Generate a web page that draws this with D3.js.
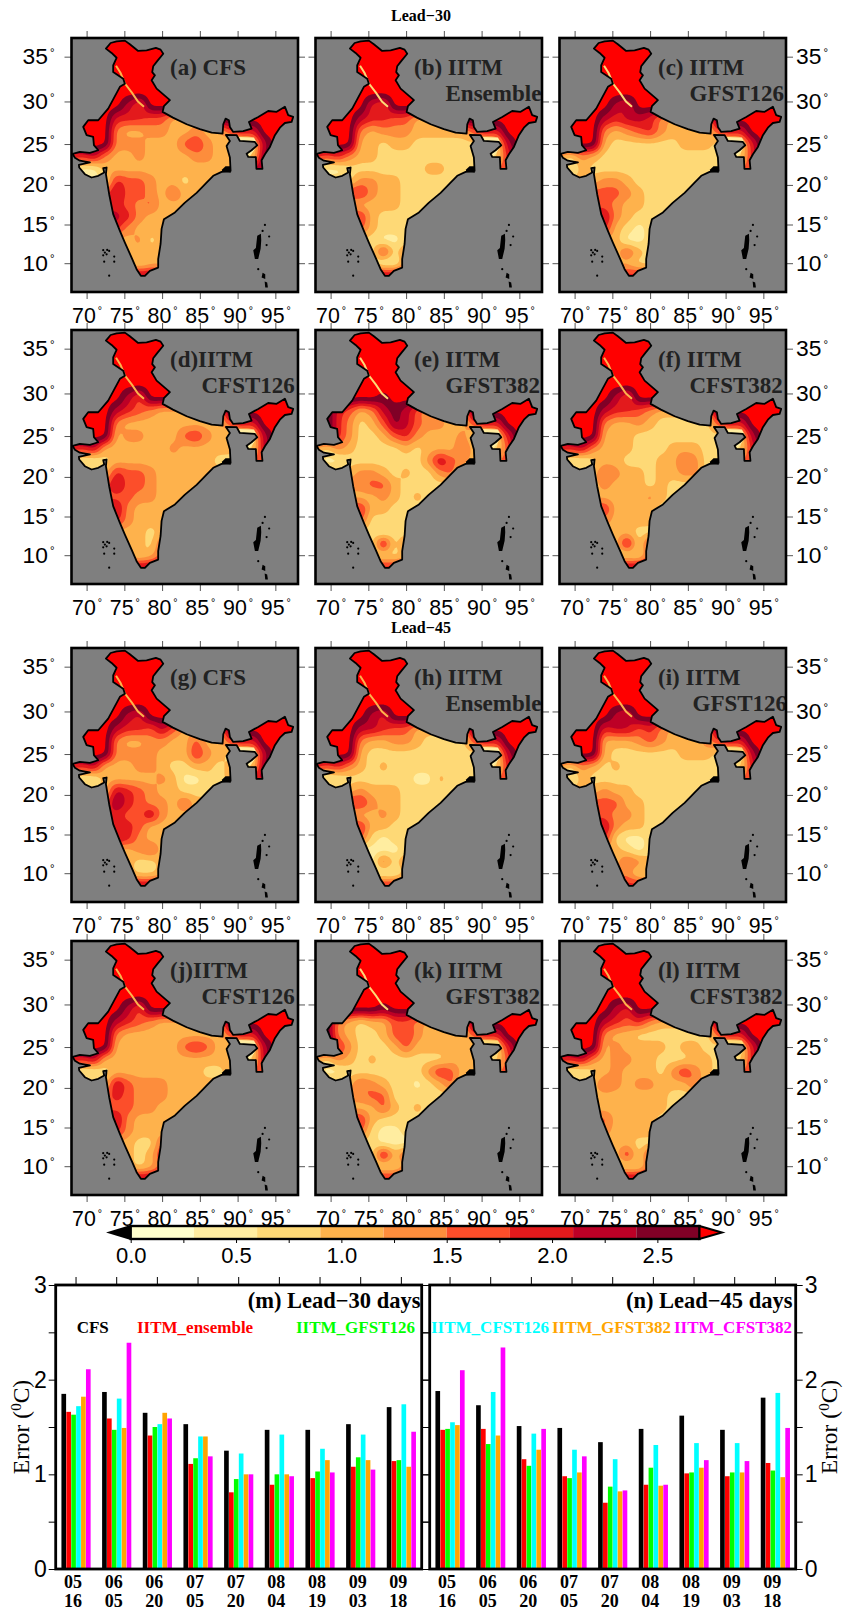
<!DOCTYPE html>
<html>
<head>
<meta charset="utf-8">
<script src="https://cdn.jsdelivr.net/npm/d3@7"></script>
<style>
  body { margin: 0; background: #fff; }
  text { font-family: "Liberation Sans", sans-serif; }
  .serif { font-family: "Liberation Serif", serif; font-weight: bold; }
</style>
</head>
<body>
<svg id="chart" width="843" height="1621"></svg>
<script>
// ---- bar chart values, degC, one row per date, columns in seriesNames order
var dateTop = ["05", "06", "06", "07", "07", "08", "08", "09", "09"];
var dateBottom = ["16", "05", "20", "05", "20", "04", "19", "03", "18"];
var seriesNames = ["CFS", "IITM_ensemble", "IITM_GFST126", "IITM_CFST126", "IITM_GFST382", "IITM_CFST382"];
var seriesColors = ["#000000", "#ff0000", "#00ff00", "#00ffff", "#ffa500", "#ff00ff"];
var lead30Errors = [
  [1.85, 1.66, 1.63, 1.72, 1.82, 2.11],
  [1.87, 1.59, 1.47, 1.80, 1.49, 2.39],
  [1.65, 1.41, 1.50, 1.53, 1.65, 1.59],
  [1.53, 1.11, 1.17, 1.40, 1.40, 1.19],
  [1.25, 0.81, 0.95, 1.22, 1.00, 1.00],
  [1.47, 0.89, 1.00, 1.42, 1.00, 0.98],
  [1.47, 0.96, 1.03, 1.27, 1.15, 1.02],
  [1.53, 1.08, 1.18, 1.42, 1.15, 1.05],
  [1.71, 1.14, 1.15, 1.74, 1.08, 1.45]
];
var lead45Errors = [
  [1.88, 1.47, 1.48, 1.55, 1.52, 2.10],
  [1.73, 1.48, 1.32, 1.87, 1.41, 2.34],
  [1.51, 1.16, 1.09, 1.43, 1.26, 1.48],
  [1.49, 0.98, 0.96, 1.26, 1.02, 1.19],
  [1.34, 0.70, 0.87, 1.16, 0.82, 0.83],
  [1.48, 0.89, 1.07, 1.31, 0.88, 0.89],
  [1.62, 1.01, 1.02, 1.33, 1.07, 1.15],
  [1.47, 0.98, 1.02, 1.33, 1.02, 1.14],
  [1.81, 1.12, 1.04, 1.86, 0.97, 1.49]
];

// ---- colour bar
var levelColors = ["#ffffcc", "#ffeda0", "#fed976", "#feb24c", "#fd8d3c", "#fc4e2a", "#e31a1c", "#bd0026", "#800026"];
var overColor = "#ff0000";
var levelBreaks = [0, 0.3, 0.6, 0.9, 1.2, 1.5, 1.8, 2.1, 2.4, 2.7];

// ---- map geography, lon/lat
var lonTicks = [70, 75, 80, 85, 90, 95];
var latTicks = [35, 30, 25, 20, 15, 10];
var indiaOutline = [
  [72.56,35.87],[73.18,36.47],[73.97,36.65],[75.07,36.72],[75.73,36.34],[76.83,35.62],[77.95,35.69],[79.18,35.95],
  [79.8,35.76],[80.15,35.32],[79.35,34.52],[78.82,33.95],[78.69,33.31],[79.05,32.95],[78.61,32.4],[79.27,31.46],
  [80.81,30.33],[81.03,30.15],[80.24,29.45],[80.07,28.8],[81.43,28.13],[83.25,27.35],[85.0,26.77],[86.56,26.36],
  [88.01,26.25],[88.1,27.35],[88.41,28.01],[88.85,27.82],[88.98,27.03],[89.42,26.45],[90.74,26.53],[91.85,26.84],
  [91.5,27.62],[92.73,28.21],[94.05,28.9],[95.17,28.8],[96.26,29.4],[96.7,28.42],[97.36,28.21],[97.15,27.62],
  [96.26,27.5],[95.6,26.95],[94.94,26.06],[94.28,24.65],[93.62,23.77],[93.18,23.04],[93.29,21.99],[92.49,21.99],
  [92.42,23.43],[91.4,23.44],[91.19,23.84],[91.85,24.25],[92.6,24.85],[92.29,25.25],[90.3,25.37],[89.87,26.06],
  [88.45,26.09],[88.98,25.37],[88.54,24.77],[88.98,23.36],[89.07,21.74],[87.88,21.62],[86.77,21.13],[85.89,20.29],
  [84.57,19.01],[83.02,17.78],[81.7,16.54],[80.24,15.68],[79.93,14.44],[79.8,12.5],[79.48,10.52],[79.48,9.43],
  [78.38,9.0],[77.72,8.35],[77.19,8.35],[76.62,9.22],[75.96,10.73],[75.07,12.67],[74.41,14.18],[73.52,16.32],
  [72.99,18.84],[72.56,21.33],[72.65,22.15],[72.2,22.07],[72.33,21.53],[71.54,21.13],[70.66,20.92],[69.77,21.33],
  [69.02,22.15],[68.98,22.48],[70.44,22.79],[69.11,22.98],[68.45,23.35],[68.15,23.8],[69.11,24.05],[70.44,23.93],
  [71.54,24.25],[70.97,24.86],[70.87,25.86],[70.0,26.06],[69.55,27.04],[70.21,27.82],[71.54,27.82],[72.86,29.17],
  [74.41,31.66],[75.07,32.02],[74.85,32.58],[73.52,33.31],[73.52,34.05],[73.97,34.88],[73.31,35.4]
];
var sundarbans = [[87.95,21.9],[88.4,22.3],[89.05,22.3],[89.1,21.5],[87.9,21.6]];
var andaman = [[93.09,13.83],[93.13,12.97],[93.05,11.89],[92.73,10.55],[92.29,10.55],[92.07,11.7],[92.42,11.96],[92.6,13.55]];
var carNicobar = [[93.31,8.75],[93.66,8.54],[93.66,7.92],[93.18,8.12]];
var greatNicobar = [[93.58,7.6],[93.92,7.47],[94.01,6.8],[93.66,6.8]];
var islandDots = [
  [72.2,11.7],[72.73,11.73],[72.99,11.6],[72.42,11.38],[72.2,11.03],[72.65,11.16],[72.33,10.2],[73.66,10.86],[73.66,10.2],[72.99,8.37],
  [93.62,14.95],[93.31,14.18],[94.18,13.46],[93.84,12.36],[92.73,9.22]
];
// thin band along the Himalayan foothills
var foothillStrip = [[73.9,34.0],[74.5,33.2],[75.1,32.0],[76.0,31.0],[76.8,30.0],[77.6,29.4]];
var stripLevels = [3, 2, 2, 3, 2, 3, 3, 3, 3, 3, 2, 3];
// pale Assam valley and the hook below it, narrower than the field grid can show
var assamValley = [[90.2,25.6],[92.0,25.55],[92.3,25.0],[91.9,24.3],[91.4,23.7]];
var valleyLevels = [1, 1, 1, 1, 1, 1, 1, 1, 2, 1, 2, 2];

// ---- error fields: rows lat 29.5 to 7 by 1.5, columns lon 68 to 98 by 1.5
// digit = colour band of levelBreaks, 9 = above the scale
var fieldA = ["999997599999999999999","999966655333399999999","999943344334335769999","999944433356432027999","667433433334433228999","211333333333333378888","111265543323333333333","555575543533333333333","666665453333333333333","777776433333333333333","666664333333333333333","333333423333333333333","333333333333333333333","333333233333333333333","777777777777777777777","777777777777777777777"];
var fieldB = ["999996599999999999999","999976655333399999999","999943444333335769999","999933233222222027999","656433222222222226999","111222222233222255555","222244332222222222222","666664332222222222222","333333332222222222222","666663222222222222222","555553222222222222222","222222112222222222222","222222624444444444444","222222114444444444444","777777777777777777777","777777777777777777777"];
var fieldC = ["999997699999999999999","999976776433339999999","999943456433335769999","999932222223332026999","324322222222222226999","213222222222222255555","333344322222222222222","555555432222222222222","555554332222222222222","777774322222222222222","666663212222222222222","333333112222222222222","333333532222222222222","333333322222222222222","666666666666666666666","666666666666666666666"];
var fieldD = ["999997599999999999999","999976543333339999999","999943333333335769999","999934433356432027999","667333333433333227999","211233333333322255555","333365543333333333333","555575543333333333333","555555443333333333333","777774333333333333333","666664333333333333333","333333323333333333333","333333325555555555555","333333235555555555555","777777777777777777777","777777777777777777777"];
var fieldE = ["999999899999999999999","996534787533339999999","996423587544335769999","996422356433342026999","324322223233353225999","211222222247543255555","333344323224522222222","444445532222222222222","333333432322222222222","666663322222222222222","555552222222222222222","222222122222222222222","222222724444444444444","222222223333333333333","666666666666666666666","666666666666666666666"];
var fieldF = ["999997599999999999999","999976654333339999999","999943343222225769999","999933322222222027999","667433322233322226999","211233222335422255555","333354332334422222222","333343332322222222222","333333334322222222222","666663333222222222222","444443333222222222222","333333322222222222222","333333726666666666666","222222225555555555555","777777777777777777777","777777777777777777777"];
var fieldG = ["999997699999999999999","999976657533339999999","999943344335335769999","999944443336432027999","667333443223323228999","211333334311223377777","333376543322222222222","555586544353333333333","666665574333333333333","666666533333333333333","777776433333333333333","333333453333333333333","333333223333333333333","333333223333333333333","777777777777777777777","777777777777777777777"];
var fieldH = ["999997699999999999999","999977655333339999999","999943344322225769999","999932222222222027999","656432322222222226999","111222222113222255555","333343332222222222222","666664332222222222222","333333432222222222222","666663322222222222222","555552122222222222222","111111112222222222222","111111524444444444444","111111113333333333333","666666666666666666666","666666666666666666666"];
var fieldI = ["999997699999999999999","999967756433339999999","999933345433345769999","999932222223332027999","324323222222222226999","213222222222222255555","333343322222222222222","555555332222222222222","555554432222222222222","777774332222222222222","666662112222222222222","333333212222222222222","333333543333333333333","444444422222222222222","666666666666666666666","666666666666666666666"];
var fieldJ = ["999997599999999999999","999976543333339999999","999943333333335769999","999933333356532027999","667333333333333227999","211233333333223255555","333375444333333333333","555565444333333333333","555555443333333333333","777774333333333333333","666664333333333333333","333333225555555555555","333333236666666666666","333333235555555555555","777777777777777777777","777777777777777777777"];
var fieldK = ["999999899999999999999","994323355433339999999","994322356433335769999","996422235333332026999","324323222222333225999","211222222246533255555","333354322123522222222","444445522222222222222","333333532322222222222","666663222222222222222","555552112222222222222","222222111222222222222","222222735555555555555","222222224444444444444","666666666666666666666","666666666666666666666"];
var fieldL = ["999997699999999999999","999976564333339999999","999943322222225769999","999934333323322026999","667434433222332226999","211234333246432255555","333354344333522222222","333333333322222222222","333333333322222222222","555553333222222222222","444443333222222222222","333333322222222222222","333333626666666666666","222222225555555555555","777777777777777777777","777777777777777777777"];
var panelFields = [fieldA, fieldB, fieldC, fieldD, fieldE, fieldF, fieldG, fieldH, fieldI, fieldJ, fieldK, fieldL];
var northRow = "999999999999999999999"; // lat 37 to 31 is above the scale everywhere

var panelLine1 = ["(a) CFS", "(b) IITM", "(c) IITM", "(d)IITM", "(e) IITM", "(f) IITM", "(g) CFS", "(h) IITM", "(i) IITM", "(j)IITM", "(k) IITM", "(l) IITM"];
var panelLine2 = ["", "Ensemble", "GFST126", "CFST126", "GFST382", "CFST382", "", "Ensemble", "GFST126", "CFST126", "GFST382", "CFST382"];

// ---- layout
var colLeft = [71.5, 315.5, 559.5];
var rowTop = [38, 330, 648, 941];
var mapW = 226.5, mapH = 254;
var svg = d3.select("#chart");

var proj = d3.geoMercator().scale(432.6).center([68, 37]).translate([0, 0]);
var xLon = d3.scaleLinear().domain([68, 98]).range([0, mapW]);
var yLat = d3.scaleLinear()
  .domain(latTicks)
  .range(latTicks.map(function (d) { return proj([68, d])[1]; }));

// planar path, so ring direction of contours and outlines does not matter
var geoPath = d3.geoPath(d3.geoTransform({
  point: function (lon, lat) {
    var p = proj([lon, lat]);
    this.stream.point(p[0], p[1]);
  }
}));
function ring(pts) {
  return { type: "Polygon", coordinates: [pts.concat([pts[0]])] };
}

// refine the typed grid so the contour bands come out smooth; the ease keeps
// edges between cells steep, the bands in the reference are narrow next to red
var up = 6;
function ease(t) { return t * t * t * (t * (t * 6 - 15) + 10); }
function contourBands(rows) {
  var all = [northRow, northRow, northRow, northRow, northRow].concat(rows);
  var nr = all.length, nc = all[0].length;
  var w = (nc - 1) * up + 1, h = (nr - 1) * up + 1;
  var data = new Float64Array(w * h);
  function at(r, c) { return +all[Math.min(r, nr - 1)][Math.min(c, nc - 1)] + 0.5; }
  for (var j = 0; j < h; j++) {
    for (var i = 0; i < w; i++) {
      var r = Math.floor(j / up), c = Math.floor(i / up);
      var fy = ease(j / up - r), fx = ease(i / up - c);
      data[j * w + i] = at(r, c) * (1 - fx) * (1 - fy) + at(r, c + 1) * fx * (1 - fy) +
        at(r + 1, c) * (1 - fx) * fy + at(r + 1, c + 1) * fx * fy;
    }
  }
  d3.blur2({ data: data, width: w, height: h }, 1.5);
  var bands = d3.contours().size([w, h]).thresholds(d3.range(0, 10))(Array.from(data));
  bands.forEach(function (b) {
    b.coordinates = b.coordinates.map(function (poly) {
      return poly.map(function (rg) {
        return rg.map(function (pt) {
          return [68 + (pt[0] - 0.5) / up * 1.5, 37 - (pt[1] - 0.5) / up * 1.5];
        });
      });
    });
  });
  return bands;
}

svg.append("defs").append("clipPath").attr("id", "indiaClip")
  .append("path").attr("d", geoPath(ring(indiaOutline)));

function degLabel(len) {
  return function (g) {
    g.selectAll("text")
      .attr("font-size", 22)
      .attr("fill", "#000")
      .attr("textLength", len)
      .attr("lengthAdjust", "spacingAndGlyphs")
      .append("tspan")
      .attr("font-size", 11)
      .attr("dy", "-0.75em")
      .attr("dx", "2")
      .text("°");
  };
}

function drawMap(idx) {
  var col = idx % 3, row = Math.floor(idx / 3);
  var g = svg.append("g").attr("transform", "translate(" + colLeft[col] + "," + rowTop[row] + ")");

  g.append("rect").attr("width", mapW).attr("height", mapH).attr("fill", "#7f7f7f");

  var clip = g.append("g").attr("clip-path", "url(#indiaClip)");
  clip.selectAll("path.band")
    .data(contourBands(panelFields[idx]))
    .join("path")
    .attr("class", "band")
    .attr("d", geoPath)
    .attr("fill", function (d, i) { return i < levelColors.length ? levelColors[i] : overColor; });
  clip.append("path")
    .datum({ type: "LineString", coordinates: foothillStrip })
    .attr("d", geoPath)
    .attr("fill", "none")
    .attr("stroke", levelColors[stripLevels[idx]])
    .attr("stroke-width", 2);
  clip.append("path")
    .datum({ type: "LineString", coordinates: assamValley })
    .attr("d", geoPath)
    .attr("fill", "none")
    .attr("stroke", levelColors[valleyLevels[idx]])
    .attr("stroke-width", 4);

  g.append("path").attr("d", geoPath(ring(indiaOutline)))
    .attr("fill", "none").attr("stroke", "#000").attr("stroke-width", 1.8).attr("stroke-linejoin", "round");
  [sundarbans, andaman, carNicobar, greatNicobar].forEach(function (pts) {
    g.append("path").attr("d", geoPath(ring(pts))).attr("fill", "#000");
  });
  g.selectAll("circle.island")
    .data(islandDots)
    .join("circle")
    .attr("class", "island")
    .attr("cx", function (d) { return proj(d)[0]; })
    .attr("cy", function (d) { return proj(d)[1]; })
    .attr("r", 1.1)
    .attr("fill", "#000");

  // panel captions
  g.append("text").attr("class", "serif").attr("x", 98.5).attr("y", 37)
    .attr("font-size", 23).attr("fill", "#222").text(panelLine1[idx]);
  g.append("text").attr("class", "serif").attr("x", idx == 8 ? 133 : 130).attr("y", 63)
    .attr("font-size", 23).attr("fill", "#222").text(panelLine2[idx]);

  // ticks on all sides, labels only on the outer columns and below every map
  function noDomain(s) { s.select(".domain").remove(); s.selectAll("line").attr("stroke", "#555"); }
  g.append("g").call(d3.axisTop(xLon).tickValues(lonTicks).tickSize(7).tickFormat("")).call(noDomain);
  g.append("g").attr("transform", "translate(0," + mapH + ")")
    .call(d3.axisBottom(xLon).tickValues(lonTicks).tickSize(7).tickPadding(8).tickFormat(String))
    .call(noDomain).call(degLabel(30));
  var left = g.append("g").call(d3.axisLeft(yLat).tickValues(latTicks).tickSize(7).tickPadding(col == 0 ? 10 : 0)
    .tickFormat(col == 0 ? String : "")).call(noDomain);
  var right = g.append("g").attr("transform", "translate(" + mapW + ",0)")
    .call(d3.axisRight(yLat).tickValues(latTicks).tickSize(7).tickPadding(col == 2 ? 3 : 0)
    .tickFormat(col == 2 ? String : "")).call(noDomain);
  if (col == 0) left.call(degLabel(32));
  if (col == 2) right.call(degLabel(32));

  g.append("rect").attr("width", mapW).attr("height", mapH)
    .attr("fill", "none").attr("stroke", "#000").attr("stroke-width", 2.6);
}
d3.range(12).forEach(drawMap);

svg.append("text").attr("class", "serif").attr("x", 421).attr("y", 21)
  .attr("text-anchor", "middle").attr("font-size", 16).text("Lead\u221230");
svg.append("text").attr("class", "serif").attr("x", 421).attr("y", 633)
  .attr("text-anchor", "middle").attr("font-size", 16).text("Lead\u221245");

// ---- colour bar
var cbar = d3.scaleLinear().domain([0, 2.7]).range([130.7, 699.5]);
var cbTop = 1226, cbBottom = 1239, cbMid = (cbTop + cbBottom) / 2;
svg.append("g").selectAll("rect")
  .data(levelColors)
  .join("rect")
  .attr("x", function (d, i) { return cbar(levelBreaks[i]); })
  .attr("y", cbTop)
  .attr("width", function (d, i) { return cbar(levelBreaks[i + 1]) - cbar(levelBreaks[i]); })
  .attr("height", cbBottom - cbTop)
  .attr("fill", function (d) { return d; });
svg.append("rect").attr("x", cbar(0)).attr("y", cbTop)
  .attr("width", cbar(2.7) - cbar(0)).attr("height", cbBottom - cbTop)
  .attr("fill", "none").attr("stroke", "#000").attr("stroke-width", 2.4);
svg.append("path")
  .attr("d", d3.line()([[cbar(0), cbTop - 1], [106, cbMid], [cbar(0), cbBottom + 1]]) + "Z")
  .attr("fill", "#000");
svg.append("path")
  .attr("d", d3.line()([[cbar(2.7), cbTop], [722, cbMid], [cbar(2.7), cbBottom]]) + "Z")
  .attr("fill", overColor).attr("stroke", "#000").attr("stroke-width", 2);
svg.append("g").attr("transform", "translate(0," + (cbBottom + 1) + ")")
  .call(d3.axisBottom(cbar).tickValues(d3.range(0, 2.51, 0.25)).tickSize(3).tickPadding(4)
    .tickFormat(function (d) { return d * 2 % 1 == 0 ? d.toFixed(1) : ""; }))
  .call(function (s) {
    s.select(".domain").remove();
    s.selectAll("text").attr("font-size", 22).attr("fill", "#000");
  });

// ---- bar panels
var yErr = d3.scaleLinear().domain([0, 3]).range([1569, 1285]);
var errTicks = [0, 0.5, 1, 1.5, 2, 2.5, 3];

function drawBars(values, x0, caption, captionEnd, labelSide) {
  var w = 366;
  var x = d3.scaleBand().domain(d3.range(9)).range([x0, x0 + w]).paddingInner(0.27).paddingOuter(0.135);
  var xIn = d3.scaleBand().domain(seriesNames).range([0, x.bandwidth()]).padding(0.05);
  var g = svg.append("g");

  g.selectAll("g.date")
    .data(values)
    .join("g")
    .attr("class", "date")
    .attr("transform", function (d, i) { return "translate(" + x(i) + ",0)"; })
    .selectAll("rect")
    .data(function (d) { return d; })
    .join("rect")
    .attr("x", function (d, i) { return xIn(seriesNames[i]); })
    .attr("y", function (d) { return yErr(d); })
    .attr("width", xIn.bandwidth())
    .attr("height", function (d) { return yErr(0) - yErr(d); })
    .attr("fill", function (d, i) { return seriesColors[i]; });

  g.append("rect").attr("x", x0).attr("y", yErr(3)).attr("width", w).attr("height", yErr(0) - yErr(3))
    .attr("fill", "none").attr("stroke", "#000").attr("stroke-width", 2.8);

  g.append("g").attr("transform", "translate(0," + yErr(3) + ")")
    .call(d3.axisTop(x).tickSize(8).tickFormat(""))
    .call(function (s) { s.select(".domain").remove(); });

  function intLabel(d) { return d % 1 == 0 ? d : ""; }
  g.append("g").attr("transform", "translate(" + x0 + ",0)")
    .call(d3.axisLeft(yErr).tickValues(errTicks).tickSize(7).tickPadding(2)
      .tickFormat(labelSide == "left" ? intLabel : ""))
    .call(function (s) { s.select(".domain").remove(); s.selectAll("text").attr("font-size", 23).attr("fill", "#000"); });
  g.append("g").attr("transform", "translate(" + (x0 + w) + ",0)")
    .call(d3.axisRight(yErr).tickValues(errTicks).tickSize(7).tickPadding(2)
      .tickFormat(labelSide == "right" ? intLabel : ""))
    .call(function (s) { s.select(".domain").remove(); s.selectAll("text").attr("font-size", 23).attr("fill", "#000"); });

  // two line date labels
  var dates = g.selectAll("g.lab").data(dateTop).join("g").attr("class", "lab")
    .attr("transform", function (d, i) { return "translate(" + (x(i) + x.bandwidth() / 2 - 3) + ",0)"; });
  dates.append("text").attr("class", "serif").attr("y", 1588).attr("text-anchor", "middle")
    .attr("font-size", 18).text(function (d) { return d; });
  dates.append("text").attr("class", "serif").attr("y", 1607).attr("text-anchor", "middle")
    .attr("font-size", 18).text(function (d, i) { return dateBottom[i]; });

  g.append("text").attr("class", "serif").attr("x", captionEnd).attr("y", 1308)
    .attr("text-anchor", "end").attr("font-size", 22.5).text(caption);
}
drawBars(lead30Errors, 55.7, "(m) Lead\u221230 days", 420.5, "left");
drawBars(lead45Errors, 429.7, "(n) Lead\u221245 days", 792.5, "right");

var legendX = [76.7, 137, 296, 431, 552, 674];
svg.append("g").selectAll("text")
  .data(seriesNames)
  .join("text")
  .attr("class", "serif")
  .attr("x", function (d, i) { return legendX[i]; })
  .attr("y", 1333)
  .attr("font-size", 17)
  .attr("fill", function (d, i) { return seriesColors[i]; })
  .text(function (d) { return d; });

// y titles
function errorTitle(x) {
  var t = svg.append("text")
    .attr("transform", "translate(" + x + ",1427) rotate(-90)")
    .attr("text-anchor", "middle")
    .style("font-family", "Liberation Serif")
    .attr("font-size", 23.5);
  t.append("tspan").text("Error (");
  t.append("tspan").attr("font-size", 15).attr("dy", -8).text("0");
  t.append("tspan").attr("dy", 8).text("C)");
}
errorTitle(29);
errorTitle(837);
</script>
</body>
</html>
